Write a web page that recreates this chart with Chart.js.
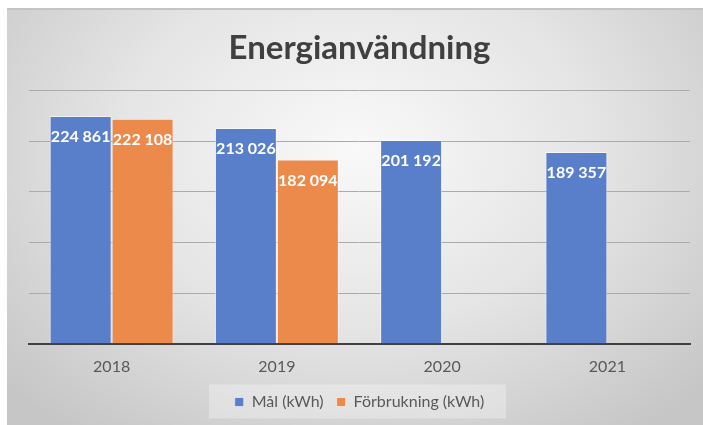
<!DOCTYPE html>
<html lang="sv">
<head>
<meta charset="utf-8">
<title>Energianvändning</title>
<script src="https://cdn.jsdelivr.net/npm/chart.js@4/dist/chart.umd.min.js"></script>
<style>
    html, body { margin: 0; padding: 0; background: #ffffff; }
    #wrap { width: 703px; height: 425px; }
</style>
</head>
<body>
<div id="wrap"><canvas id="energyChart" width="703" height="425"></canvas></div>
<script>
const years = ['2018', '2019', '2020', '2021'];
const malValues = [224861, 213026, 201192, 189357];
const forbrukningValues = [222108, 182094, null, null];
const seriesNames = ['Mål (kWh)', 'Förbrukning (kWh)'];

const fontFamily = 'Lato, "Open Sans", sans-serif';

function formatNumber(v) {
    return String(v).replace(/\B(?=(\d{3})+(?!\d))/g, ' ');
}

// grey gradient panel behind everything, plus the lighter legend box
const backgroundPlugin = {
    id: 'panelBackground',
    beforeDraw(chart) {
        const ctx = chart.ctx;
        const w = chart.width;
        const h = chart.height;
        ctx.save();
        ctx.fillStyle = '#ffffff';
        ctx.fillRect(0, 0, w, h);

        ctx.translate(355, 150);
        ctx.scale(1, 0.75);
        const grad = ctx.createRadialGradient(0, 0, 0, 0, 0, 470);
        grad.addColorStop(0, '#f9f9f9');
        grad.addColorStop(0.5, '#e5e5e5');
        grad.addColorStop(1, '#c6c6c6');
        ctx.fillStyle = grad;
        ctx.fillRect(7 - 355, (8 - 150) / 0.75, w, h / 0.75);
        ctx.restore();

        ctx.save();
        ctx.strokeStyle = '#c4c4c4';
        ctx.lineWidth = 2;
        ctx.beginPath();
        ctx.moveTo(7, 9);
        ctx.lineTo(w, 9);
        ctx.stroke();

        const lg = chart.legend;
        if (lg) {
            ctx.fillStyle = 'rgba(255, 255, 255, 0.3)';
            const boxW = 297;
            const midY = lg.top + lg.height / 2;
            ctx.fillRect(lg.left + lg.width / 2 - boxW / 2 - 2, midY - 16, boxW, 34);
        }
        ctx.restore();
    }
};

// white value labels just inside the top of each bar
const valueLabels = {
    id: 'valueLabels',
    afterDatasetsDraw(chart) {
        const ctx = chart.ctx;
        ctx.save();
        ctx.fillStyle = '#ffffff';
        ctx.font = 'bold 16px ' + fontFamily;
        ctx.textAlign = 'center';
        ctx.textBaseline = 'middle';
        chart.data.datasets.forEach((ds, i) => {
            const meta = chart.getDatasetMeta(i);
            meta.data.forEach((bar, j) => {
                const v = ds.data[j];
                if (v === null || v === undefined) return;
                ctx.fillText(formatNumber(v), bar.x, bar.y + 21);
            });
        });
        ctx.restore();
    }
};

new Chart(document.getElementById('energyChart'), {
    type: 'bar',
    data: {
        labels: years,
        datasets: [
            {
                label: seriesNames[0],
                data: malValues,
                backgroundColor: '#5a7fca',
                borderColor: 'rgba(255, 255, 255, 0.55)',
                borderWidth: 1
            },
            {
                label: seriesNames[1],
                data: forbrukningValues,
                backgroundColor: '#ec8a4b',
                borderColor: 'rgba(255, 255, 255, 0.55)',
                borderWidth: 1
            }
        ]
    },
    options: {
        responsive: false,
        animation: false,
        events: [],
        layout: {
            padding: { left: 29, right: 13, top: 0, bottom: 5 }
        },
        datasets: {
            bar: {
                categoryPercentage: 0.75,
                barPercentage: 1.0
            }
        },
        scales: {
            x: {
                grid: { display: false },
                border: { display: true, color: '#404040', width: 2 },
                ticks: {
                    color: '#595959',
                    font: { family: fontFamily, size: 16 },
                    padding: 5
                }
            },
            y: {
                min: 0,
                max: 250000,
                ticks: { display: false, stepSize: 50000 },
                grid: { color: '#ababab', drawTicks: false },
                border: { display: false }
            }
        },
        plugins: {
            title: {
                display: true,
                text: 'Energianvändning',
                color: '#404040',
                font: { family: fontFamily, size: 33, weight: 'bold' },
                padding: { top: 29, bottom: 22 }
            },
            legend: {
                position: 'bottom',
                labels: {
                    color: '#595959',
                    font: { family: fontFamily, size: 16 },
                    boxWidth: 9,
                    boxHeight: 9,
                    padding: 13
                }
            },
            tooltip: { enabled: false }
        }
    },
    plugins: [backgroundPlugin, valueLabels]
});
</script>
</body>
</html>
